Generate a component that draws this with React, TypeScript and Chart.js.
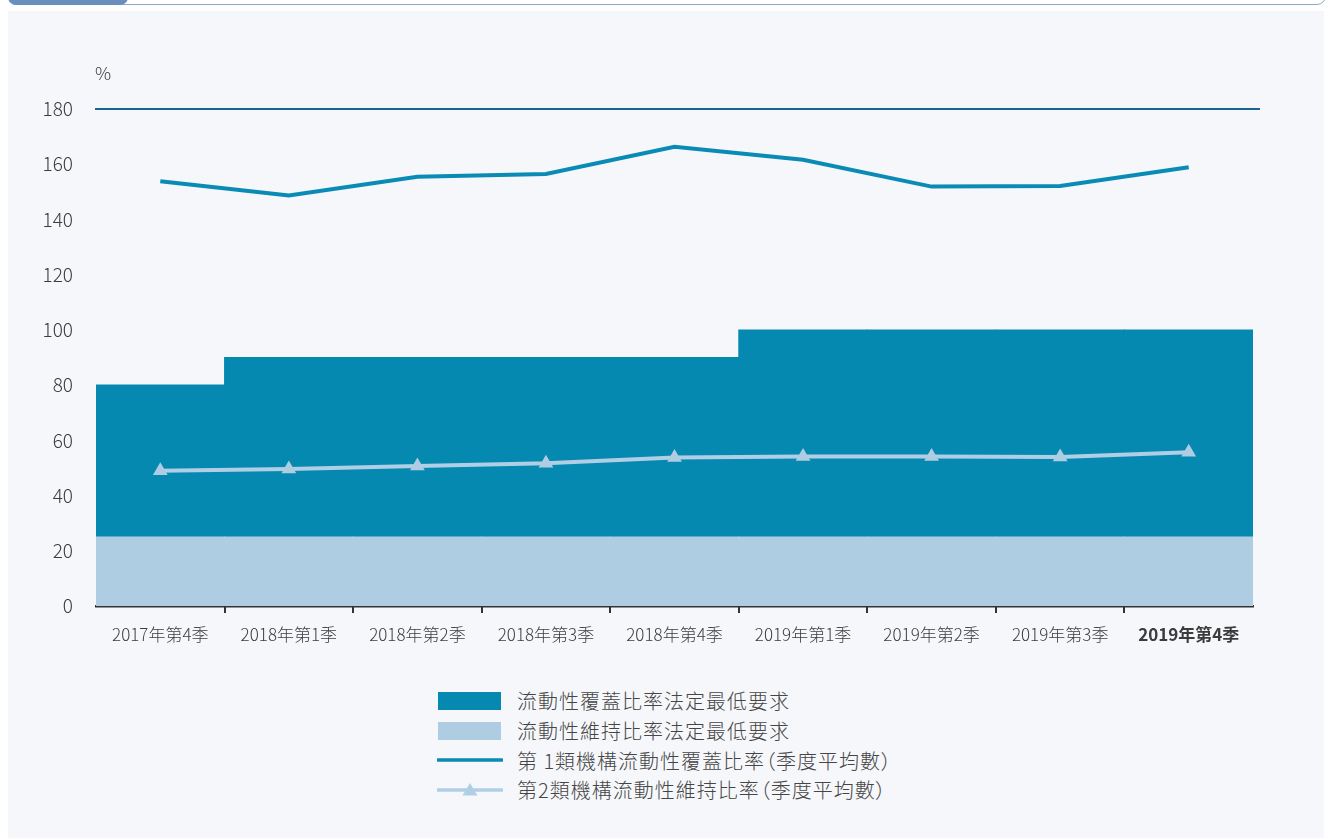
import React, { useEffect, useRef } from "react";
import { Chart, registerables } from "chart.js";

Chart.register(...registerables);

// Quarter labels along the category axis
const quarters = [
  "2017年第4季",
  "2018年第1季",
  "2018年第2季",
  "2018年第3季",
  "2018年第4季",
  "2019年第1季",
  "2019年第2季",
  "2019年第3季",
  "2019年第4季",
];

// Statutory minimum requirements (%)
const lcrMinimum = [80, 90, 90, 90, 90, 100, 100, 100, 100];
const lmrMinimum = [25, 25, 25, 25, 25, 25, 25, 25, 25];

// Quarterly average ratios (%)
const category1Lcr = [153.8, 148.7, 155.5, 156.5, 166.3, 161.6, 151.9, 152.1, 158.9];
const category2Lmr = [49.0, 49.6, 50.7, 51.7, 53.8, 54.1, 54.1, 54.0, 55.7];

// Value axis
const yTicks = [0, 20, 40, 60, 80, 100, 120, 140, 160, 180];

const legendLabels = [
  "流動性覆蓋比率法定最低要求",
  "流動性維持比率法定最低要求",
  "第 1類機構流動性覆蓋比率（季度平均數）",
  "第2類機構流動性維持比率（季度平均數）",
];

const DARK = "#0589b0";
const LIGHT = "#aecde2";
const LCR_LINE = "#0a8bb6";
const LMR_LINE = "#b0cfe4";
const TEXT = "#3c3c3c";
const AXIS_FONT = '"Noto Sans CJK TC", "Noto Sans", sans-serif';
const CJK_FONT = '"Noto Sans CJK TC", "Noto Sans", sans-serif';

const decorations = {
  id: "decorations",
  afterDraw(chart: any) {
    const { ctx, chartArea, scales } = chart;
    const x = scales.x;
    const y = scales.y;
    ctx.save();
    // tick marks between quarters
    ctx.strokeStyle = "#333";
    ctx.lineWidth = 2;
    for (let i = 1; i < quarters.length; i++) {
      const px = Math.round((x.getPixelForValue(i - 1) + x.getPixelForValue(i)) / 2);
      ctx.beginPath();
      ctx.moveTo(px, chartArea.bottom);
      ctx.lineTo(px, chartArea.bottom + 7);
      ctx.stroke();
    }
    // frame line at the top of the value axis
    const top = Math.round(y.getPixelForValue(yTicks[yTicks.length - 1]));
    ctx.strokeStyle = "#1c6390";
    ctx.lineWidth = 2;
    ctx.beginPath();
    ctx.moveTo(chartArea.left - 1, top);
    ctx.lineTo(chartArea.right + 7, top);
    ctx.stroke();
    // unit label
    ctx.fillStyle = TEXT;
    ctx.font = "300 18px " + AXIS_FONT;
    ctx.textAlign = "left";
    ctx.textBaseline = "middle";
    ctx.fillText("%", chartArea.left - 1, top - 36);
    ctx.restore();
  },
};

function LegendSwatch({ kind }: { kind: number }) {
  if (kind === 0 || kind === 1) {
    return (
      <svg width={66} height={18} style={{ display: "block" }}>
        <rect x={1} y={0} width={63} height={18} fill={kind === 0 ? DARK : LIGHT} />
      </svg>
    );
  }
  const color = kind === 2 ? LCR_LINE : LMR_LINE;
  return (
    <svg width={66} height={18} style={{ display: "block" }}>
      <line x1={1} y1={9} x2={65} y2={9} stroke={color} strokeWidth={3.5} strokeLinecap="round" />
      {kind === 3 && <polygon points="33,2 40.5,14.5 25.5,14.5" fill={LMR_LINE} />}
    </svg>
  );
}

export default function App() {
  const canvasRef = useRef<HTMLCanvasElement | null>(null);

  useEffect(() => {
    if (!canvasRef.current) return;
    const chart = new Chart(canvasRef.current, {
      type: "bar",
      data: {
        labels: quarters,
        datasets: [
          {
            type: "bar",
            label: legendLabels[0],
            data: lcrMinimum,
            backgroundColor: DARK,
            borderWidth: 0,
            inflateAmount: 0.5,
            grouped: false,
            barPercentage: 1,
            categoryPercentage: 1,
            order: 4,
          } as any,
          {
            type: "bar",
            label: legendLabels[1],
            data: lmrMinimum,
            backgroundColor: LIGHT,
            borderWidth: 0,
            inflateAmount: 0.5,
            grouped: false,
            barPercentage: 1,
            categoryPercentage: 1,
            order: 3,
          } as any,
          {
            type: "line",
            label: legendLabels[2],
            data: category1Lcr,
            borderColor: LCR_LINE,
            borderWidth: 4,
            pointRadius: 0,
            tension: 0,
            order: 1,
          },
          {
            type: "line",
            label: legendLabels[3],
            data: category2Lmr,
            borderColor: LMR_LINE,
            borderWidth: 4,
            pointStyle: "triangle",
            pointRadius: 8.5,
            pointBackgroundColor: LIGHT,
            pointBorderColor: LIGHT,
            pointBorderWidth: 0,
            tension: 0,
            order: 2,
          },
        ],
      },
      options: {
        animation: false,
        responsive: true,
        maintainAspectRatio: false,
        layout: { padding: { left: 0, right: 79, top: 109, bottom: 0 } },
        plugins: {
          legend: { display: false },
          tooltip: { enabled: false },
        },
        scales: {
          x: {
            type: "category",
            offset: true,
            z: 1,
            grid: { display: false, drawTicks: false },
            border: { display: true, color: "#333", width: 2.5 },
            ticks: {
              color: TEXT,
              padding: 18,
              maxRotation: 0,
              autoSkip: false,
              font: (ctx: any) => ({
                size: 17,
                family: AXIS_FONT,
                weight: ctx.index === quarters.length - 1 ? "bold" : "300",
              }),
            },
            afterFit: (scale: any) => {
              scale.height = 54;
            },
          },
          y: {
            min: yTicks[0],
            max: yTicks[yTicks.length - 1],
            grid: { display: false, drawTicks: false },
            border: { display: false },
            afterBuildTicks: (scale: any) => {
              scale.ticks = yTicks.map((v) => ({ value: v }));
            },
            ticks: {
              color: TEXT,
              padding: 23,
              font: { size: 19, family: AXIS_FONT, weight: "300" },
            },
            afterFit: (scale: any) => {
              scale.width = 96;
            },
          },
        },
      },
      plugins: [decorations],
    });
    return () => chart.destroy();
  }, []);

  return (
    <div
      style={{
        position: "absolute",
        left: 0,
        top: 0,
        width: 1332,
        height: 838,
        overflow: "hidden",
        background: "#ffffff",
      }}
    >
      {/* header rule with tab */}
      <div
        style={{
          position: "absolute",
          left: 8,
          top: -12,
          width: 1318,
          height: 17,
          boxSizing: "border-box",
          border: "1.5px solid #8fa9c9",
          borderRadius: "0 0 9px 9px",
        }}
      />
      <div
        style={{
          position: "absolute",
          left: 8,
          top: -8,
          width: 120,
          height: 13,
          background: "#6a8fbf",
          borderRadius: "0 0 8px 8px",
        }}
      />
      {/* panel */}
      <div
        style={{
          position: "absolute",
          left: 8,
          top: 11,
          width: 1316,
          height: 827,
          background: "#f5f7fb",
        }}
      />
      <div style={{ position: "absolute", left: 0, top: 0, width: 1332, height: 660 }}>
        <canvas ref={canvasRef} />
      </div>
      {/* legend */}
      <div
        style={{
          position: "absolute",
          left: 437,
          top: 686,
          fontFamily: CJK_FONT,
          fontSize: 20,
          fontWeight: 300,
          color: "#454545",
          letterSpacing: "1px",
          fontFeatureSettings: '"palt"',
        }}
      >
        {legendLabels.map((label, i) => (
          <div
            key={label}
            style={{ display: "flex", alignItems: "center", height: 29.8, whiteSpace: "nowrap" }}
          >
            <LegendSwatch kind={i} />
            <span style={{ marginLeft: 14, lineHeight: "29.8px" }}>{label}</span>
          </div>
        ))}
      </div>
    </div>
  );
}
